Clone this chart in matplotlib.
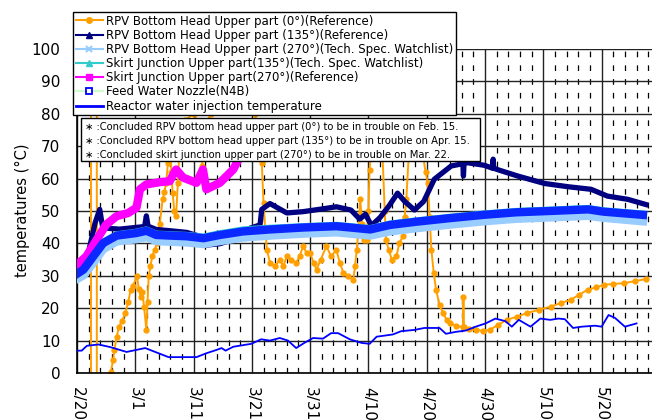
import matplotlib
matplotlib.use('Agg')
import matplotlib.pyplot as plt
from matplotlib.lines import Line2D
from matplotlib.patches import Rectangle
import numpy as np

plt.rcParams['font.family'] = 'DejaVu Sans'

# days counted from 2/20 (2012, leap year)
tick_days = [0, 10, 20, 30, 40, 50, 60, 70, 80, 90, 100]
tick_labels = ['2/20', '3/1', '3/11', '3/21', '3/31', '4/10', '4/20', '4/30', '5/10', '5/20', '5/30']

# Reactor water injection temperature
inj_day = [0, 0.8, 1.7, 3.7, 5.7, 8.5, 11.7, 13.7, 15.7, 20.5, 22.2, 23.9, 24.8, 25.5, 26.8,
           28.5, 29.9, 31.6, 33.1, 34.8, 36.2, 37.6, 39.1, 40.5, 42.2, 43.6, 44.8, 46.8, 48.8,
           50.2, 51.4, 54.2, 55.6, 57.9, 59.6, 62.2, 63.3, 65.0, 66.7, 68.4, 70.1, 71.8, 73.5,
           74.6, 75.8, 77.8, 79.5, 81.2, 82.6, 83.7, 85.1, 86.6, 88.9, 90.0, 91.2, 92.3, 94.0, 96.0]
inj_temp = [6.9, 6.9, 8.4, 8.8, 8.0, 6.5, 7.7, 6.3, 4.9, 4.9, 6.1, 7.1, 7.7, 6.9, 8.1,
            8.6, 9.0, 10.4, 10.0, 10.8, 10.0, 7.7, 9.4, 10.8, 10.6, 12.3, 12.3, 10.4, 9.3,
            9.0, 11.2, 11.9, 12.9, 13.3, 13.9, 13.9, 12.1, 12.7, 13.1, 14.3, 15.3, 16.8, 16.0,
            14.3, 16.4, 14.3, 16.8, 16.4, 16.8, 16.6, 13.9, 14.3, 14.6, 14.3, 17.9, 17.0, 14.3, 15.3]

# band series share the same sampling days
band_day = [0, 1.1, 2.8, 4.5, 6.8, 10.2, 11.9, 13.6, 16.0, 18.8, 21.7, 24.5, 28.5, 33.1,
            38.8, 44.5, 47.5, 50.3, 53.7, 58.3, 64.0, 69.7, 75.4, 81.1, 87.7, 90.3, 97.1]
fw_temp = [30.6, 31.9, 36.0, 40.1, 42.4, 43.2, 43.9, 42.6, 42.4, 42.2, 41.6, 42.6, 43.7, 44.3,
           44.9, 45.3, 44.8, 44.3, 45.7, 46.7, 47.8, 48.8, 49.6, 50.0, 50.5, 49.8, 48.8]
rpv270_temp = [29.0, 30.1, 34.0, 38.2, 40.6, 41.3, 41.9, 40.7, 40.5, 40.3, 39.8, 40.7, 41.8, 42.4,
               43.0, 43.4, 42.9, 42.4, 43.7, 44.7, 45.8, 46.8, 47.6, 48.0, 48.5, 47.9, 46.8]
sk135_temp = [30.8, 32.1, 36.3, 40.4, 42.7, 43.5, 44.2, 42.9, 42.7, 42.5, 42.0, 43.0, 44.2, 44.7,
              45.2, 45.6, 45.1, 44.6, 46.0, 47.0, 48.1, 49.1, 49.9, 50.3, 50.8, 50.1, 49.1]

# RPV bottom head upper part (135)
n_day = [0, 1.5, 3.1, 3.9, 4.4, 5.0, 7.3, 11.6, 11.9, 12.2, 13.6, 16.0, 18.8, 20.5, 22.3, 24.5,
         26.8, 29.7, 31.4, 31.7, 33.1, 36.0, 38.8, 42.3, 44.5, 47.0, 48.5, 49.5, 50.5, 52.0,
         53.5, 55.0, 56.2, 57.9, 59.5, 61.3, 64.2, 66.2, 66.3, 66.4, 67.0, 69.9, 71.3, 71.4,
         71.5, 72.1, 75.6, 80.2, 84.2, 88.2, 91.0, 94.5, 97.6]
n_temp = [30.8, 33.5, 46.3, 50.5, 45.0, 44.7, 44.4, 45.2, 48.5, 45.3, 44.3, 43.9, 43.4, 42.5, 39.5,
          39.9, 41.2, 44.7, 45.7, 50.5, 52.3, 49.4, 49.8, 50.7, 51.3, 50.3, 47.5, 49.0, 45.5, 48.0,
          51.5, 55.5, 53.0, 50.3, 53.0, 59.8, 63.9, 64.6, 60.8, 64.6, 64.9, 64.1, 63.2, 66.0,
          63.2, 62.8, 60.8, 58.5, 57.5, 56.7, 54.6, 53.6, 52.0]

# Skirt junction upper part (270)
m_day = [0, 1.6, 3.4, 5.0, 6.8, 8.8, 10.2, 10.8, 11.9, 14.2, 15.9, 17.0, 18.2, 20.5, 21.6,
         22.2, 24.5, 26.8, 27.7]
m_temp = [33.4, 36.0, 41.2, 45.8, 48.4, 49.4, 51.0, 56.7, 58.2, 58.9, 59.2, 62.8, 60.3, 58.7,
          62.8, 56.7, 58.7, 62.8, 65.9]

# RPV bottom head upper part (0)
o_day = [2.4, 2.4, 3.4, 3.4, 5.6, 5.8, 6.2, 6.4, 6.8, 7.2, 7.7, 8.3, 8.8, 9.2, 9.6, 10.3, 10.6,
         10.9, 11.2, 11.5, 11.9, 12.1, 12.3, 12.6, 12.9, 13.3, 13.8, 14.2, 14.7, 15.0, 15.3,
         15.6, 15.9, 16.2, 16.4, 16.7, 17.0, 17.3, 17.6, 18.5, 20.0, 21.2, 21.5, 21.8, 23.0,
         25.0, 27.0, 29.0, 30.5, 31.5, 31.7, 32.0, 32.3, 32.6, 33.1, 34.0, 34.8, 35.4, 36.0,
         36.8, 37.6, 38.2, 38.8, 39.4, 40.0, 40.6, 41.1, 41.8, 42.8, 43.6, 44.5, 45.1, 45.7,
         46.5, 47.4, 47.7, 48.0, 48.3, 48.6, 48.9, 49.2, 49.7, 50.0, 50.2, 50.6, 51.5, 52.4,
         52.8, 53.0, 53.5, 54.0, 54.8, 55.3, 55.9, 56.2, 56.5, 57.0, 58.5, 59.2, 59.8, 60.2,
         60.5, 60.8, 61.2, 61.6, 62.2, 62.8, 63.4, 64.0, 65.0, 66.2, 66.3, 66.4, 67.3, 68.5,
         69.6, 70.8, 72.2, 73.7, 75.5, 77.2, 79.2, 81.3, 83.0, 84.7, 86.2, 87.6, 89.0, 90.4,
         92.0, 93.8, 95.8, 97.6]
o_temp = [-10, 115, 115, -10, -10, 0.4, 4, 7, 11, 14.3, 16, 18.5, 22, 25.7, 27, 29.8, 26,
          23.6, 25, 20.5, 13.3, 22, 29.8, 33, 36, 38, 40.1, 46, 53.6, 56, 58.7,
          64.9, 72, 62, 55.6, 50, 48.4, 58.7, 70, 78, 80, 76, 64, 76, 80,
          82, 85, 82, 80, 72, 64.9, 52.6, 44, 38, 34, 33, 35, 33, 36,
          35, 34, 36, 39.1, 37, 37, 34, 31.9, 35, 39.1, 36, 38, 34, 30.9,
          29.8, 28.8, 33, 38, 45, 53.6, 46, 41, 41.2, 50, 62.8, 72, 75, 68,
          50, 41, 38, 35, 36, 40, 42.2, 48, 53.6, 70, 72, 69, 62, 58.7,
          48, 38, 31, 25.7, 21, 18.5, 16.5, 15.4, 14.6, 14.1, 23.6, 14.1, 13.6, 13.3,
          13.0, 13.3, 14.8, 16.4, 17.4, 18.5, 19.5, 20.5, 21.6, 22.6, 24.2, 25.7, 26.4, 27.2,
          27.5, 27.7, 28.4, 29.0]

C_ORANGE = '#FFA000'
C_NAVY = '#000080'
C_LBLUE = '#99CCFF'
C_TEAL = '#33CCCC'
C_MAG = '#FF00FF'
C_FW = '#0A28FF'
C_INJ = '#0000FF'

fig = plt.figure(figsize=(6.52, 4.2), dpi=100)
ax = fig.add_axes([77 / 652, 47 / 420, 612 / 652, 324 / 420])

ax.plot(o_day, o_temp, color=C_ORANGE, lw=1.4, marker='o', ms=3.5, zorder=2)
ax.plot(n_day, n_temp, color=C_NAVY, lw=3.8, solid_joinstyle='round', zorder=3)
ax.plot(band_day, rpv270_temp, color=C_LBLUE, lw=6, solid_joinstyle='round', zorder=4)
ax.plot(band_day, sk135_temp, color=C_TEAL, lw=5, solid_joinstyle='round', zorder=4)
ax.plot(m_day, m_temp, color=C_MAG, lw=6, solid_joinstyle='round', zorder=5)
ax.plot(band_day, fw_temp, color=C_FW, lw=6, solid_joinstyle='round', zorder=6)
ax.plot(inj_day, inj_temp, color=C_INJ, lw=1.3, zorder=7)

ax.set_xlim(0, 105)
ax.set_ylim(0, 100)
ax.set_yticks(range(0, 101, 10))
ax.set_xticks(tick_days)
ax.set_xticklabels(tick_labels, rotation=270, fontsize=11, va='top', ha='center')
ax.set_xticks(np.arange(0, 106, 2), minor=True)
ax.tick_params(axis='both', which='both', length=0)
ax.tick_params(axis='x', pad=10)
ax.tick_params(axis='y', labelsize=11, pad=12)

ax.grid(True, which='major', axis='both', color='#222222', lw=1.0, zorder=0)
ax.grid(True, which='minor', axis='x', color='black', lw=0.9, ls=(0, (4.5, 6.5)), zorder=0)
ax.set_axisbelow(True)
for s in ['top', 'right']:
    ax.spines[s].set_visible(False)
ax.spines['left'].set_linewidth(1.2)
ax.spines['bottom'].set_linewidth(1.2)

fig.text(22 / 652, (420 - 210) / 420, 'temperatures (°C)', rotation=90,
         fontsize=10.5, ha='center', va='center')

handles = [
    Line2D([], [], color=C_ORANGE, lw=1.5, marker='o', ms=4),
    Line2D([], [], color=C_NAVY, lw=1.5, marker='^', ms=5),
    Line2D([], [], color=C_LBLUE, lw=1.5, marker='x', ms=5, mew=1.5),
    Line2D([], [], color=C_TEAL, lw=1.5, marker='^', ms=5),
    Line2D([], [], color=C_MAG, lw=1.5, marker='s', ms=5),
    Line2D([], [], color='#CCFFCC', lw=1.5, marker='s', ms=4, mfc='white', mec=C_INJ, mew=1.3),
    Line2D([], [], color=C_INJ, lw=2),
]
labels = [
    'RPV Bottom Head Upper part (0°)(Reference)',
    'RPV Bottom Head Upper part (135°)(Reference)',
    'RPV Bottom Head Upper part (270°)(Tech. Spec. Watchlist)',
    'Skirt Junction Upper part(135°)(Tech. Spec. Watchlist)',
    'Skirt Junction Upper part(270°)(Reference)',
    'Feed Water Nozzle(N4B)',
    'Reactor water injection temperature',
]
leg = fig.legend(handles, labels, loc='upper left', bbox_to_anchor=(73 / 652, 1 - 12 / 420),
                 fontsize=8.5, frameon=True, fancybox=False, framealpha=1, edgecolor='black',
                 handlelength=2.3, handletextpad=0.3, labelspacing=0.1, borderpad=0.22,
                 borderaxespad=0)
leg.get_frame().set_linewidth(1.0)

# notes box
fig.patches.append(Rectangle((81 / 652, (420 - 161) / 420), 399 / 652, 43 / 420,
                             transform=fig.transFigure, facecolor='white',
                             edgecolor='black', lw=1.0, zorder=4))
notes = [
    '∗ :Concluded RPV bottom head upper part (0°) to be in trouble on Feb. 15.',
    '∗ :Concluded RPV bottom head upper part (135°) to be in trouble on Apr. 15.',
    '∗ :Concluded skirt junction upper part (270°) to be in trouble on Mar. 22.',
]
for i, t in enumerate(notes):
    fig.text(85 / 652, (420 - (127 + i * 14)) / 420, t, fontsize=7.2, ha='left',
             va='center', zorder=6)

fig.savefig('out.png', dpi=100)
